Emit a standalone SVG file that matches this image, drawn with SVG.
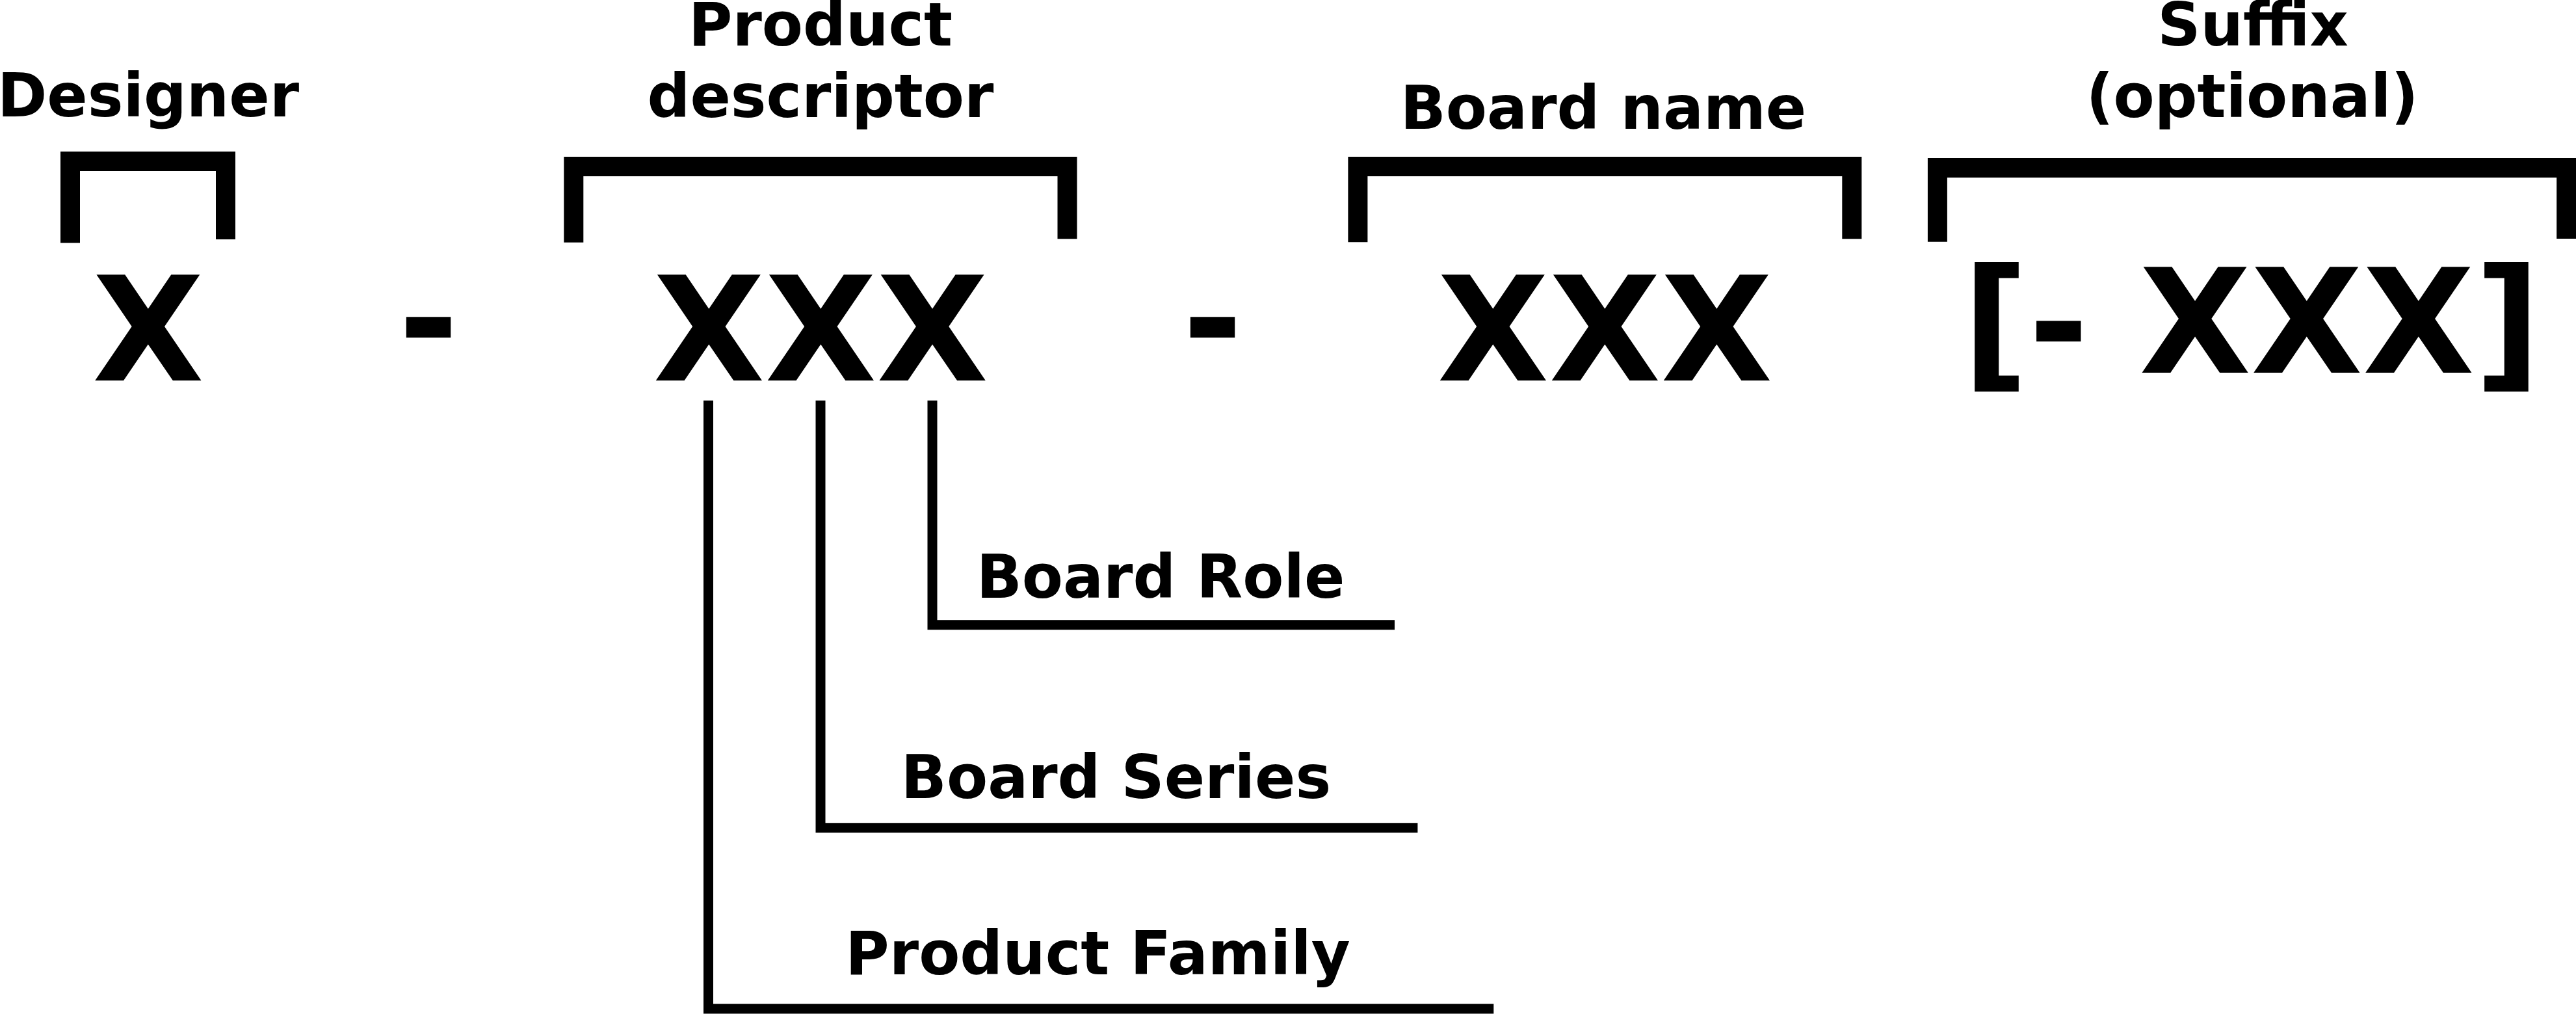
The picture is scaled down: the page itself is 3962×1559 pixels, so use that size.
<svg xmlns="http://www.w3.org/2000/svg" width="3962" height="1559" viewBox="0 0 3962 1559">
<style>
.lbl{font-family:"DejaVu Sans","Liberation Sans",sans-serif;font-weight:bold;font-size:92px;text-anchor:middle;fill:#000}
.big{font-family:"DejaVu Sans","Liberation Sans",sans-serif;font-weight:bold;font-size:223px;text-anchor:middle;fill:#000}
.br{fill:none;stroke:#000;stroke-width:30;stroke-linejoin:miter;stroke-linecap:butt}
.conn{fill:none;stroke:#000;stroke-width:15;stroke-linejoin:miter;stroke-linecap:butt}
</style>
<rect width="3962" height="1559" fill="#fff"/>
<g id="designer">
<text class="lbl" x="228" y="179">Designer</text>
<path class="br" d="M108,373.5 V248 H347 V368"/>
<text class="big" x="228" y="584.5">X</text>
</g>
<g id="sep1"><text class="big" x="659" y="567">-</text></g>
<g id="product-descriptor">
<text class="lbl" x="1262" y="69.6">Product</text>
<text class="lbl" x="1262" y="180.3">descriptor</text>
<path class="br" d="M882.3,372.7 V256 H1641.5 V367.3"/>
<text class="big" x="1262.4" y="584.5">XXX</text>
</g>
<g id="sep2"><text class="big" x="1865" y="567">-</text></g>
<g id="board-name">
<text class="lbl" x="2466" y="198.2">Board name</text>
<path class="br" d="M2088.4,372.3 V256 H2848.3 V367.3"/>
<text class="big" x="2468.5" y="584.5">XXX</text>
</g>
<g id="suffix">
<text class="lbl" x="3465" y="69.6">Suffix</text>
<text class="lbl" x="3464" y="180.3">(optional)</text>
<path class="br" d="M2979.9,371.8 V258 H3947.2 V366.9"/>
<text class="big" x="3463" y="572.9">[- XXX]</text>
</g>
<g id="board-role"><text class="lbl" x="1785" y="919">Board Role</text></g>
<g id="board-series"><text class="lbl" x="1716.5" y="1226.5">Board Series</text></g>
<g id="product-family"><text class="lbl" x="1688.5" y="1498.3">Product Family</text></g>
<g id="connectors">
<polyline class="conn" points="1434,615.7 1434,960.7 2145,960.7"/>
<polyline class="conn" points="1262,615.7 1262,1272.7 2180.4,1272.7"/>
<polyline class="conn" points="1089.5,615.7 1089.5,1551 2297.3,1551"/>
</g>
</svg>
